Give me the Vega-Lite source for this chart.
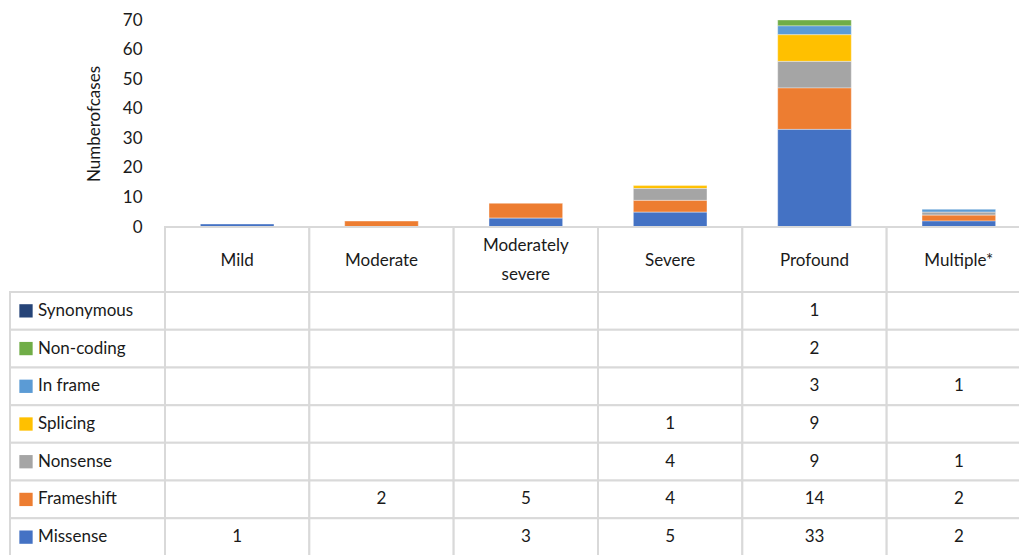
{
  "$schema": "https://vega.github.io/schema/vega-lite/v6.json",
  "padding": {"left": 9, "top": 11, "right": 0, "bottom": 0},
  "background": "white",
  "columns": 2,
  "spacing": 0,
  "bounds": "flush",
  "align": "each",
  "config": {
    "view": {"stroke": null},
    "font": "Lato",
    "text": {"font": "Lato", "fontSize": 17, "color": "#1a1a1a"}
  },
  "datasets": {
    "cases": [
      {"severity": "Mild", "type": "Synonymous", "n": null},
      {"severity": "Mild", "type": "Non-coding", "n": null},
      {"severity": "Mild", "type": "In frame", "n": null},
      {"severity": "Mild", "type": "Splicing", "n": null},
      {"severity": "Mild", "type": "Nonsense", "n": null},
      {"severity": "Mild", "type": "Frameshift", "n": null},
      {"severity": "Mild", "type": "Missense", "n": 1},
      {"severity": "Moderate", "type": "Synonymous", "n": null},
      {"severity": "Moderate", "type": "Non-coding", "n": null},
      {"severity": "Moderate", "type": "In frame", "n": null},
      {"severity": "Moderate", "type": "Splicing", "n": null},
      {"severity": "Moderate", "type": "Nonsense", "n": null},
      {"severity": "Moderate", "type": "Frameshift", "n": 2},
      {"severity": "Moderate", "type": "Missense", "n": null},
      {"severity": "Moderately severe", "type": "Synonymous", "n": null},
      {"severity": "Moderately severe", "type": "Non-coding", "n": null},
      {"severity": "Moderately severe", "type": "In frame", "n": null},
      {"severity": "Moderately severe", "type": "Splicing", "n": null},
      {"severity": "Moderately severe", "type": "Nonsense", "n": null},
      {"severity": "Moderately severe", "type": "Frameshift", "n": 5},
      {"severity": "Moderately severe", "type": "Missense", "n": 3},
      {"severity": "Severe", "type": "Synonymous", "n": null},
      {"severity": "Severe", "type": "Non-coding", "n": null},
      {"severity": "Severe", "type": "In frame", "n": null},
      {"severity": "Severe", "type": "Splicing", "n": 1},
      {"severity": "Severe", "type": "Nonsense", "n": 4},
      {"severity": "Severe", "type": "Frameshift", "n": 4},
      {"severity": "Severe", "type": "Missense", "n": 5},
      {"severity": "Profound", "type": "Synonymous", "n": 1},
      {"severity": "Profound", "type": "Non-coding", "n": 2},
      {"severity": "Profound", "type": "In frame", "n": 3},
      {"severity": "Profound", "type": "Splicing", "n": 9},
      {"severity": "Profound", "type": "Nonsense", "n": 9},
      {"severity": "Profound", "type": "Frameshift", "n": 14},
      {"severity": "Profound", "type": "Missense", "n": 33},
      {"severity": "Multiple*", "type": "Synonymous", "n": null},
      {"severity": "Multiple*", "type": "Non-coding", "n": null},
      {"severity": "Multiple*", "type": "In frame", "n": 1},
      {"severity": "Multiple*", "type": "Splicing", "n": null},
      {"severity": "Multiple*", "type": "Nonsense", "n": 1},
      {"severity": "Multiple*", "type": "Frameshift", "n": 2},
      {"severity": "Multiple*", "type": "Missense", "n": 2}
    ],
    "severities": [
      {"severity": "Mild"}, {"severity": "Moderate"}, {"severity": "Moderately severe"},
      {"severity": "Severe"}, {"severity": "Profound"}, {"severity": "Multiple*"}
    ],
    "types": [
      {"type": "Synonymous"}, {"type": "Non-coding"}, {"type": "In frame"}, {"type": "Splicing"},
      {"type": "Nonsense"}, {"type": "Frameshift"}, {"type": "Missense"}
    ]
  },
  "concat": [
    {
      "width": 155, "height": 207,
      "data": {"values": [{}]},
      "mark": {"type": "text"},
      "encoding": {"text": {"value": ""}}
    },
    {
      "width": 866, "height": 207,
      "data": {"name": "cases"},
      "transform": [
        {"filter": {"field": "n", "valid": true}},
        {"calculate": "indexof(['Missense','Frameshift','Nonsense','Splicing','In frame','Non-coding','Synonymous'], datum.type)", "as": "stackOrder"}
      ],
      "mark": {"type": "bar", "clip": true, "stroke": "white", "strokeWidth": 0.6, "strokeOpacity": 0.6},
      "encoding": {
        "x": {
          "field": "severity", "type": "nominal", "axis": null,
          "sort": ["Mild", "Moderate", "Moderately severe", "Severe", "Profound", "Multiple*"],
          "scale": {"paddingInner": 0.49, "paddingOuter": 0.245}
        },
        "y": {
          "field": "n", "type": "quantitative", "stack": "zero",
          "scale": {"domain": [0, 70], "nice": false},
          "axis": {
            "title": "Numberofcases", "values": [0, 10, 20, 30, 40, 50, 60, 70],
            "grid": false, "domain": false, "ticks": false, "tickSize": 0,
            "labelPadding": 23, "labelFont": "Lato", "labelFontSize": 17, "labelColor": "#1a1a1a",
            "titleFont": "Lato", "titleFontSize": 17, "titleFontWeight": "normal", "titleColor": "#1a1a1a",
            "titlePadding": 19
          }
        },
        "order": {"field": "stackOrder", "type": "quantitative", "sort": "ascending"},
        "color": {
          "field": "type", "type": "nominal", "legend": null,
          "scale": {
            "domain": ["Missense", "Frameshift", "Nonsense", "Splicing", "In frame", "Non-coding", "Synonymous"],
            "range": ["#4472C4", "#ED7D31", "#A5A5A5", "#FFC000", "#5B9BD5", "#70AD47", "#264478"]
          }
        }
      }
    },
    {
      "width": 155, "height": 65,
      "data": {"values": [{}]},
      "mark": {"type": "text"},
      "encoding": {"text": {"value": ""}}
    },
    {
      "width": 866, "height": 65,
      "data": {"name": "severities"},
      "encoding": {
        "x": {
          "field": "severity", "type": "nominal", "axis": null,
          "sort": ["Mild", "Moderate", "Moderately severe", "Severe", "Profound", "Multiple*"],
          "scale": {"paddingInner": 0, "paddingOuter": 0}
        }
      },
      "layer": [
        {"mark": {"type": "rect", "fill": "white", "stroke": "#d9d9d9", "strokeWidth": 2}},
        {"transform": [{"filter": "indexof(datum.severity, ' ') < 0"}],
         "mark": {"type": "text", "baseline": "middle", "dy": 1},
         "encoding": {"text": {"field": "severity"}}},
        {"transform": [{"filter": "indexof(datum.severity, ' ') >= 0"}],
         "mark": {"type": "text", "lineBreak": " ", "lineHeight": 29, "baseline": "middle", "dy": -14},
         "encoding": {"text": {"field": "severity"}}}
      ]
    },
    {
      "width": 155, "height": 264,
      "data": {"name": "types"},
      "encoding": {
        "y": {
          "field": "type", "type": "nominal", "axis": null,
          "sort": ["Synonymous", "Non-coding", "In frame", "Splicing", "Nonsense", "Frameshift", "Missense"],
          "scale": {"paddingInner": 0, "paddingOuter": 0}
        }
      },
      "layer": [
        {"mark": {"type": "rect", "fill": "white", "stroke": "#d9d9d9", "strokeWidth": 2}},
        {"mark": {"type": "point", "shape": "square", "filled": true, "opacity": 1, "size": 177, "x": 16},
         "encoding": {
           "color": {
             "field": "type", "type": "nominal", "legend": null,
             "scale": {
               "domain": ["Missense", "Frameshift", "Nonsense", "Splicing", "In frame", "Non-coding", "Synonymous"],
               "range": ["#4472C4", "#ED7D31", "#A5A5A5", "#FFC000", "#5B9BD5", "#70AD47", "#264478"]
             }
           }
         }},
        {"mark": {"type": "text", "align": "left", "baseline": "middle", "x": 28},
         "encoding": {"text": {"field": "type"}}}
      ]
    },
    {
      "width": 866, "height": 264,
      "data": {"name": "cases"},
      "encoding": {
        "x": {
          "field": "severity", "type": "nominal", "axis": null,
          "sort": ["Mild", "Moderate", "Moderately severe", "Severe", "Profound", "Multiple*"],
          "scale": {"paddingInner": 0, "paddingOuter": 0}
        },
        "y": {
          "field": "type", "type": "nominal", "axis": null,
          "sort": ["Synonymous", "Non-coding", "In frame", "Splicing", "Nonsense", "Frameshift", "Missense"],
          "scale": {"paddingInner": 0, "paddingOuter": 0}
        }
      },
      "layer": [
        {"mark": {"type": "rect", "fill": "white", "stroke": "#d9d9d9", "strokeWidth": 2}},
        {"transform": [{"filter": {"field": "n", "valid": true}}],
         "mark": {"type": "text", "baseline": "middle"},
         "encoding": {"text": {"field": "n", "type": "quantitative", "format": "d"}}}
      ]
    }
  ]
}
